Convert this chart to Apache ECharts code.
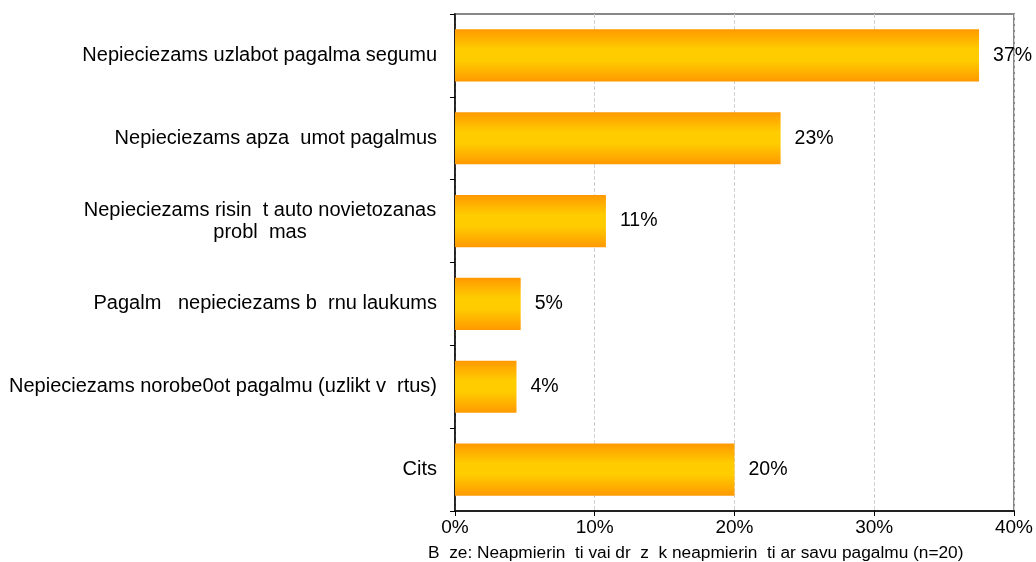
<!DOCTYPE html>
<html>
<head>
<meta charset="utf-8">
<script src="https://cdn.jsdelivr.net/npm/echarts@6/dist/echarts.min.js"></script>
<style>
  html, body { margin: 0; padding: 0; background: #fff; }
  #chart { width: 1036px; height: 562px; }
</style>
</head>
<body>
<div id="chart"></div>
<script>
// kategorijas (no augšas uz leju)
const categories = [
  'Nepieciezams uzlabot pagalma segumu',
  'Nepieciezams apza  umot pagalmus',
  'Nepieciezams risin  t auto novietozanas\nprobl  mas',
  'Pagalm   nepieciezams b  rnu laukums',
  'Nepieciezams norobe0ot pagalmu (uzlikt v  rtus)',
  'Cits'
];
// vērtības (%)
const values = [37.5, 23.3, 10.8, 4.7, 4.4, 20.0];
const valueLabels = ['37%', '23%', '11%', '5%', '4%', '20%'];
const xTicks = [0, 10, 20, 30, 40];
const footnote = 'B  ze: Neapmierin  ti vai dr  z  k neapmierin  ti ar savu pagalmu (n=20)';

const FONT = '"Liberation Sans", Arial, sans-serif';

let chart = echarts.init(document.getElementById('chart'));

const option = {
  backgroundColor: '#fff',
  animation: false,
  title: {
    text: footnote,
    left: 423,
    top: 540,
    textStyle: { fontFamily: FONT, fontSize: 17.3, fontWeight: 'normal', color: '#000' }
  },
  grid: {
    left: 455,
    right: 22,
    top: 14,
    bottom: 51,
    show: true,
    borderColor: '#888',
    borderWidth: 2
  },
  xAxis: {
    type: 'value',
    min: xTicks[0],
    max: xTicks[xTicks.length - 1],
    interval: 10,
    axisLine: { show: true, lineStyle: { color: '#000', width: 1.5 } },
    axisTick: { show: true, length: 5, lineStyle: { color: '#000' } },
    axisLabel: {
      formatter: '{value}%',
      margin: 7,
      fontFamily: FONT,
      fontSize: 19,
      color: '#000'
    },
    splitLine: { show: true, lineStyle: { color: '#d0d0d0', type: 'dashed' } }
  },
  yAxis: {
    type: 'category',
    inverse: true,
    data: categories,
    axisLine: { show: true, lineStyle: { color: '#000', width: 1.5 } },
    axisTick: { show: true, length: 5, lineStyle: { color: '#000' } },
    axisLabel: {
      margin: 18,
      fontFamily: FONT,
      fontSize: 20,
      color: '#000',
      formatter: function (v) {
        if (v.indexOf('\n') >= 0) {
          return v.split('\n').map(function (s) { return '{c|' + s + '}'; }).join('\n');
        }
        return v;
      },
      rich: {
        c: { width: 354, align: 'center', fontFamily: FONT, fontSize: 20, color: '#000', lineHeight: 22 }
      }
    },
    splitLine: { show: false }
  },
  series: [
    {
      type: 'bar',
      data: values,
      barWidth: '63%',
      itemStyle: {
        color: new echarts.graphic.LinearGradient(0, 0, 0, 1, [
          { offset: 0, color: '#ff9900' },
          { offset: 0.38, color: '#ffcc00' },
          { offset: 0.6, color: '#ffcc00' },
          { offset: 1, color: '#ff9900' }
        ])
      },
      label: {
        show: true,
        position: 'right',
        distance: 14,
        fontFamily: FONT,
        fontSize: 19.5,
        color: '#000',
        formatter: function (p) { return valueLabels[p.dataIndex]; }
      }
    }
  ]
};

chart.setOption(option);
</script>
</body>
</html>
